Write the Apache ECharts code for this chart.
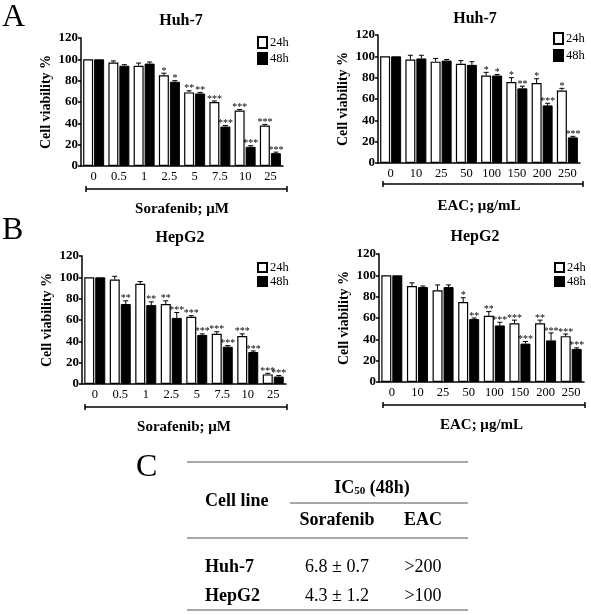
<!DOCTYPE html>
<html>
<head>
<meta charset="utf-8">
<script src="https://cdn.jsdelivr.net/npm/echarts@6/dist/echarts.min.js"></script>
<style>
  html, body { margin: 0; padding: 0; background: #fff; }
  #chart { width: 591px; height: 615px; }
</style>
</head>
<body>
<div id="chart"></div>
<script>
// categories
const sorafenibDoses = ['0', '0.5', '1', '2.5', '5', '7.5', '10', '25']
const eacDoses = ['0', '10', '25', '50', '100', '150', '200', '250']
const yTicks = [0, 20, 40, 60, 80, 100, 120]

// Huh-7, sorafenib
const huhSora24 = [100, 97, 94, 85, 69, 60, 52, 38]
const huhSora24Err = [0, 1.5, 2.5, 2, 1.5, 1, 1, 1]
const huhSora24Sig = ['', '', '', '*', '**', '***', '***', '***']
const huhSora48 = [100, 94, 96, 79, 68, 37, 18, 12]
const huhSora48Err = [0, 1, 1.5, 1, 1, 1, 1, 1]
const huhSora48Sig = ['', '', '', '*', '**', '***', '***', '***']

// Huh-7, EAC
const huhEac24 = [100, 97, 95, 93, 82, 76, 75, 68]
const huhEac24Err = [0, 4, 3, 3, 3, 4, 4, 2]
const huhEac24Sig = ['', '', '', '', '*', '*', '*', '*']
const huhEac48 = [100, 98, 96, 92, 82, 70, 54, 24]
const huhEac48Err = [0, 3, 1, 3, 1, 2, 2, 1]
const huhEac48Sig = ['', '', '', '', '*', '**', '***', '***']

// HepG2, sorafenib
const hepSora24 = [100, 98, 94, 75, 63, 47, 45, 9]
const hepSora24Err = [0, 3, 2, 3, 1, 2, 2, 1]
const hepSora24Sig = ['', '', '', '**', '***', '***', '***', '***']
const hepSora48 = [100, 75, 74, 62, 46, 35, 30, 7]
const hepSora48Err = [0, 3, 3, 5, 1, 1, 1, 1]
const hepSora48Sig = ['', '**', '**', '***', '***', '***', '***', '***']

// HepG2, EAC
const hepEac24 = [100, 90, 86, 75, 62, 55, 55, 43]
const hepEac24Err = [0, 3, 5, 4, 4, 3, 3, 2]
const hepEac24Sig = ['', '', '', '*', '**', '***', '**', '***']
const hepEac48 = [100, 89, 89, 59, 53, 36, 39, 31]
const hepEac48Err = [0, 1, 2, 1, 3, 2, 7, 1]
const hepEac48Sig = ['', '', '', '**', '***', '***', '***', '***']

// IC50 table
const tableCellLines = ['Huh-7', 'HepG2']
const tableSorafenib = ['6.8 \u00b1 0.7', '4.3 \u00b1 1.2']
const tableEac = ['>200', '>100']

const serif = 'Liberation Serif'

const panels = [
  { title: 'Huh-7', xName: 'Sorafenib; \u03bcM', cats: sorafenibDoses,
    grid: { left: 81, top: 38, width: 202, height: 128 }, titleX: 176, titleY: 8,
    legend: { left: 252, top: 31, h: 11, gap: 3 }, bracket: [86, 287, 189],
    s24: [huhSora24, huhSora24Err, huhSora24Sig], s48: [huhSora48, huhSora48Err, huhSora48Sig] },
  { title: 'Huh-7', xName: 'EAC; \u03bcg/mL', cats: eacDoses,
    grid: { left: 378, top: 35, width: 202, height: 128 }, titleX: 470, titleY: 6,
    legend: { left: 548, top: 27, h: 11, gap: 4 }, bracket: [383, 583, 184],
    s24: [huhEac24, huhEac24Err, huhEac24Sig], s48: [huhEac48, huhEac48Err, huhEac48Sig] },
  { title: 'HepG2', xName: 'Sorafenib; \u03bcM', cats: sorafenibDoses,
    grid: { left: 82, top: 256, width: 204, height: 128 }, titleX: 175, titleY: 225,
    legend: { left: 252, top: 256, h: 9, gap: 1 }, bracket: [85, 287, 407],
    s24: [hepSora24, hepSora24Err, hepSora24Sig], s48: [hepSora48, hepSora48Err, hepSora48Sig] },
  { title: 'HepG2', xName: 'EAC; \u03bcg/mL', cats: eacDoses,
    grid: { left: 379, top: 254, width: 205, height: 128 }, titleX: 470, titleY: 224,
    legend: { left: 549, top: 256, h: 9, gap: 1 }, bracket: [383, 585, 405],
    s24: [hepEac24, hepEac24Err, hepEac24Sig], s48: [hepEac48, hepEac48Err, hepEac48Sig] }
]

const BAR_W = 10
const OFFSET = 5.5

function errSeries(idx, vals, errs, sigs, dx) {
  return {
    type: 'custom',
    xAxisIndex: idx,
    yAxisIndex: idx,
    z: 5,
    silent: true,
    data: vals.map((v, i) => [i, v, errs[i]]),
    renderItem(params, api) {
      const i = api.value(0)
      const v = api.value(1)
      const e = api.value(2)
      const base = api.coord([i, v])
      const top = api.coord([i, v + e])
      const cx = base[0] + dx
      const children = []
      if (e > 0) {
        children.push({ type: 'line', shape: { x1: cx, y1: base[1], x2: cx, y2: top[1] }, style: { stroke: '#000', lineWidth: 1 } })
        children.push({ type: 'line', shape: { x1: cx - 2.5, y1: top[1], x2: cx + 2.5, y2: top[1] }, style: { stroke: '#000', lineWidth: 1 } })
      }
      const sig = sigs[params.dataIndex]
      if (sig) {
        children.push({ type: 'text', style: { text: sig, x: cx, y: top[1] + 3, align: 'center', verticalAlign: 'bottom', fontSize: 10, fontFamily: serif, fill: '#000' } })
      }
      return { type: 'group', children }
    }
  }
}

function bracket(x1, x2, y) {
  const s = { stroke: '#000', lineWidth: 1.5 }
  return [
    { type: 'line', shape: { x1, y1: y, x2, y2: y }, style: s },
    { type: 'line', shape: { x1, y1: y - 3, x2: x1, y2: y + 3 }, style: s },
    { type: 'line', shape: { x1: x2, y1: y - 3, x2, y2: y + 3 }, style: s }
  ]
}

const option = {
  animation: false,
  backgroundColor: '#fff',
  title: [], grid: [], xAxis: [], yAxis: [], legend: [], series: [],
  graphic: []
}

panels.forEach((p, idx) => {
  option.title.push({
    text: p.title, left: p.titleX, top: p.titleY, textAlign: 'center',
    textStyle: { fontFamily: serif, fontWeight: 'bold', fontSize: 16, color: '#000' }
  })
  option.grid.push(p.grid)
  option.xAxis.push({
    type: 'category', gridIndex: idx, data: p.cats,
    name: p.xName, nameLocation: 'middle', nameGap: 36,
    nameTextStyle: { fontFamily: serif, fontWeight: 'bold', fontSize: 15, color: '#000' },
    axisLine: { lineStyle: { color: '#000', width: 1.5 } },
    axisTick: { show: false },
    axisLabel: { fontFamily: serif, fontSize: 12.5, color: '#000', margin: 4, interval: 0 }
  })
  option.yAxis.push({
    type: 'value', gridIndex: idx, min: yTicks[0], max: yTicks[yTicks.length - 1],
    interval: yTicks[1] - yTicks[0],
    name: 'Cell viability %', nameLocation: 'middle', nameGap: 28, nameRotate: 90,
    nameTextStyle: { fontFamily: serif, fontWeight: 'bold', fontSize: 14, color: '#000' },
    axisLine: { show: true, lineStyle: { color: '#000', width: 1.5 } },
    axisTick: { show: true, length: 3, lineStyle: { color: '#000', width: 1.5 } },
    splitLine: { show: false },
    axisLabel: { fontFamily: serif, fontWeight: 'bold', fontSize: 13, color: '#000', margin: 3 }
  })
  option.legend.push({
    left: p.legend.left, top: p.legend.top, orient: 'vertical',
    data: ['24h', '48h'], icon: 'rect', selectedMode: false,
    itemWidth: 9, itemHeight: p.legend.h, itemGap: p.legend.gap,
    textStyle: { fontFamily: serif, fontSize: 12.5, color: '#000', padding: [0, 0, 0, -2] }
  })
  option.series.push({
    name: '24h', type: 'bar', xAxisIndex: idx, yAxisIndex: idx,
    data: p.s24[0], barWidth: BAR_W, barGap: '10%',
    itemStyle: { color: '#fff', borderColor: '#000', borderWidth: 1.2 }
  })
  option.series.push({
    name: '48h', type: 'bar', xAxisIndex: idx, yAxisIndex: idx,
    data: p.s48[0], barWidth: BAR_W, barGap: '10%',
    itemStyle: { color: '#000', borderColor: '#000', borderWidth: 1 }
  })
  option.series.push(errSeries(idx, p.s24[0], p.s24[1], p.s24[2], -OFFSET))
  option.series.push(errSeries(idx, p.s48[0], p.s48[1], p.s48[2], OFFSET))
  option.graphic.push(...bracket(p.bracket[0], p.bracket[1], p.bracket[2]))
})

// panel letters
const letterStyle = { fontFamily: serif, fontSize: 32, fill: '#000' }
option.graphic.push({ type: 'text', left: 2, top: 2, style: Object.assign({ text: 'A' }, letterStyle) })
option.graphic.push({ type: 'text', left: 2, top: 215, style: Object.assign({ text: 'B' }, letterStyle) })
option.graphic.push({ type: 'text', left: 136, top: 452, style: Object.assign({ text: 'C' }, letterStyle) })

// IC50 table
const tLine = { stroke: '#8a8a8a', lineWidth: 1.5 }
const bold = { fontFamily: serif, fontWeight: 'bold', fontSize: 18, fill: '#000', verticalAlign: 'middle' }
const plain = { fontFamily: serif, fontSize: 18, fill: '#000', verticalAlign: 'middle' }
option.graphic.push(
  { type: 'line', shape: { x1: 187, y1: 462, x2: 468, y2: 462 }, style: tLine },
  { type: 'line', shape: { x1: 290, y1: 503, x2: 468, y2: 503 }, style: tLine },
  { type: 'line', shape: { x1: 187, y1: 538, x2: 468, y2: 538 }, style: tLine },
  { type: 'line', shape: { x1: 187, y1: 610, x2: 468, y2: 610 }, style: tLine },
  { type: 'text', x: 205, y: 501, style: Object.assign({ text: 'Cell line', align: 'left' }, bold) },
  { type: 'text', x: 372, y: 488, style: Object.assign({
      text: 'IC{sub|50} (48h)', align: 'center',
      rich: { sub: { fontFamily: serif, fontWeight: 'bold', fontSize: 11, verticalAlign: 'bottom', padding: [6, 0, 0, 0] } }
    }, bold) },
  { type: 'text', x: 337, y: 520, style: Object.assign({ text: 'Sorafenib', align: 'center' }, bold) },
  { type: 'text', x: 423, y: 520, style: Object.assign({ text: 'EAC', align: 'center' }, bold) }
)
const rowY = [567, 596]
tableCellLines.forEach((name, i) => {
  option.graphic.push(
    { type: 'text', x: 205, y: rowY[i], style: Object.assign({ text: name, align: 'left' }, bold) },
    { type: 'text', x: 337, y: rowY[i], style: Object.assign({ text: tableSorafenib[i], align: 'center' }, plain) },
    { type: 'text', x: 423, y: rowY[i], style: Object.assign({ text: tableEac[i], align: 'center' }, plain) }
  )
})

const chart = echarts.init(document.getElementById('chart'))
chart.setOption(option)
window.addEventListener('resize', () => chart.resize())
</script>
</body>
</html>
